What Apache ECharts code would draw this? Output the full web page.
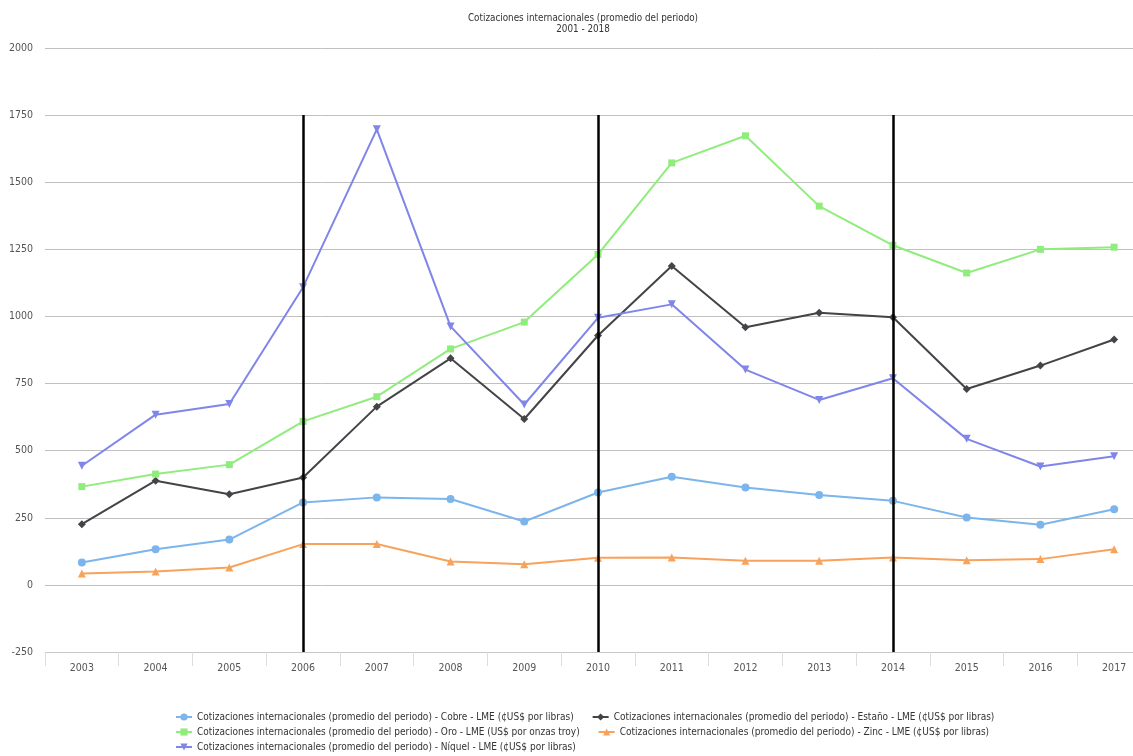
<!DOCTYPE html>
<html>
<head>
<meta charset="utf-8">
<title>Cotizaciones internacionales</title>
<script src="https://cdn.jsdelivr.net/npm/echarts@6/dist/echarts.min.js"></script>
<style>
  html, body { margin: 0; padding: 0; background: #ffffff; overflow: hidden; }
  #chart { width: 1160px; height: 756px; }
</style>
</head>
<body>
<div id="chart"></div>
<script>
// Years on the category axis
const years = ['2003','2004','2005','2006','2007','2008','2009','2010','2011','2012','2013','2014','2015','2016','2017'];

// Average yearly quotations
const cobre  = [83, 133, 169, 307, 326, 320, 236, 344, 403, 363, 335, 313, 251, 224, 282];
const estano = [226, 388, 338, 400, 664, 844, 618, 929, 1188, 960, 1014, 997, 730, 817, 914];
const oro    = [366, 413, 448, 609, 701, 879, 979, 1231, 1572, 1673, 1411, 1265, 1162, 1250, 1258];
const zinc   = [42, 50, 65, 152, 152, 87, 77, 101, 102, 90, 90, 102, 92, 96, 133];
const niquel = [444, 634, 674, 1109, 1697, 963, 672, 995, 1045, 802, 689, 770, 544, 441, 479];

// Reference years marked with vertical rules, and the value range they span
const dividerYears = ['2006', '2010', '2014'];
const dividerRange = [1750, -250];

// Series names
const prefix = 'Cotizaciones internacionales (promedio del periodo) - ';
const names = {
  cobre:  prefix + 'Cobre - LME (¢US$ por libras)',
  estano: prefix + 'Estaño - LME (¢US$ por libras)',
  oro:    prefix + 'Oro - LME (US$ por onzas troy)',
  zinc:   prefix + 'Zinc - LME (¢US$ por libras)',
  niquel: prefix + 'Níquel - LME (¢US$ por libras)'
};

const FONT = '"Liberation Sans Narrow", "Arial Narrow", "DejaVu Sans Condensed", sans-serif';

function lineSeries(name, data, color, symbol, size) {
  return {
    name: name,
    type: 'line',
    data: data,
    symbol: symbol,
    symbolSize: size,
    showSymbol: true,
    lineStyle: { color: color, width: 2 },
    itemStyle: { color: color },
    emphasis: { disabled: true },
    z: 3
  };
}

const series = [
  lineSeries(names.cobre,  cobre,  '#7cb5ec', 'circle', 8),
  lineSeries(names.estano, estano, '#434348', 'diamond', 8),
  lineSeries(names.oro,    oro,    '#90ed7d', 'rect', 7),
  lineSeries(names.zinc,   zinc,   '#f7a35c', 'triangle', 8),
  lineSeries(names.niquel, niquel, '#8085e9', 'path://M0,0 L10,0 L5,9 Z', 8)
];

// Vertical rules drawn through the category axis
series[0].markLine = {
  silent: true,
  symbol: ['none', 'none'],
  label: { show: false },
  lineStyle: { color: '#000000', width: 2.5, type: 'solid' },
  data: dividerYears.map(y => [
    { coord: [y, dividerRange[0]] },
    { coord: [y, dividerRange[1]] }
  ]),
  z: 5
};

const legendBase = {
  orient: 'horizontal',
  itemWidth: 16,
  itemHeight: 9,
  itemGap: 18,
  textStyle: { fontFamily: FONT, fontSize: 10, color: '#333333' },
  selectedMode: false
};

const option = {
  backgroundColor: '#ffffff',
  animation: false,
  title: {
    text: 'Cotizaciones internacionales (promedio del periodo)',
    subtext: '2001 - 2018',
    left: 578,
    top: 8,
    textAlign: 'center',
    itemGap: 1,
    textStyle: { fontFamily: FONT, fontSize: 9.8, fontWeight: 'normal', color: '#333333' },
    subtextStyle: { fontFamily: FONT, fontSize: 9.8, color: '#333333' }
  },
  legend: [
    Object.assign({}, legendBase, { left: 170, top: 707, data: [names.cobre, names.estano] }),
    Object.assign({}, legendBase, { left: 170, top: 722, data: [names.oro, names.zinc] }),
    Object.assign({}, legendBase, { left: 170, top: 737, data: [names.niquel] })
  ],
  grid: { left: 45, top: 48, width: 1106, height: 604, containLabel: false },
  xAxis: {
    type: 'category',
    data: years,
    boundaryGap: true,
    axisLine: { show: true, onZero: false, lineStyle: { color: '#c8c8c8', width: 1 } },
    axisTick: { show: true, length: 14, lineStyle: { color: '#dddddd' } },
    axisLabel: { fontFamily: FONT, fontSize: 10.5, color: '#555555', margin: 11 },
    splitLine: { show: false }
  },
  yAxis: {
    type: 'value',
    min: -250,
    max: 2000,
    interval: 250,
    axisLine: { show: false },
    axisTick: { show: false },
    axisLabel: {
      fontFamily: FONT, fontSize: 10.5, color: '#555555', margin: 12,
      formatter: v => String(v)
    },
    splitLine: { show: true, lineStyle: { color: '#c0c0c0', width: 1 } }
  },
  series: series
};

const chart = echarts.init(document.getElementById('chart'), null, { renderer: 'canvas' });
chart.setOption(option);
</script>
</body>
</html>
